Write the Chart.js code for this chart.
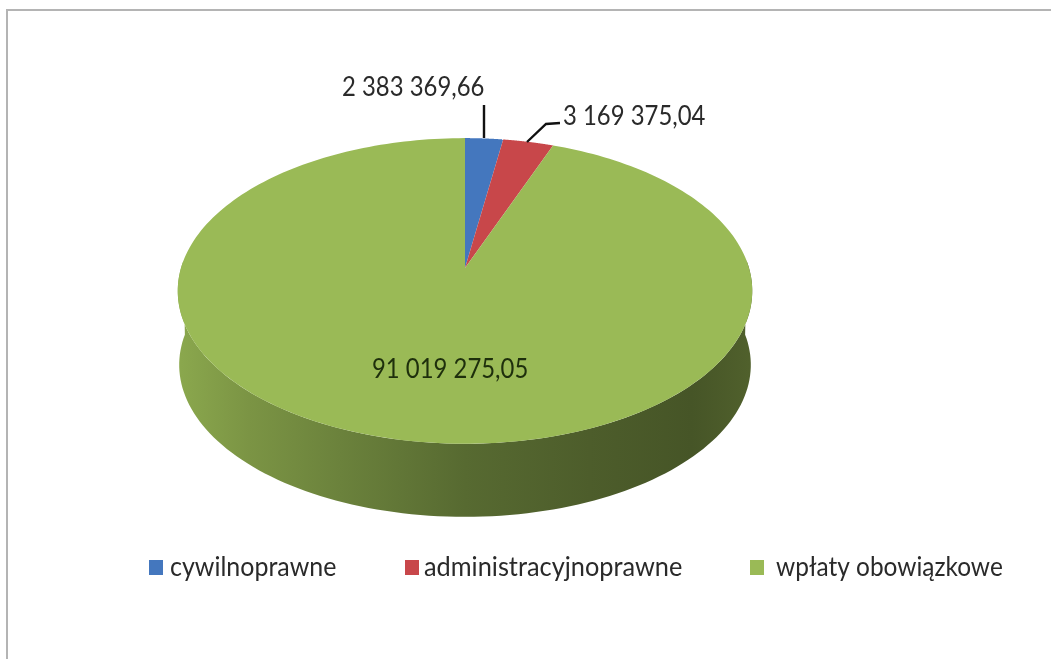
<!DOCTYPE html>
<html lang="pl">
<head>
<meta charset="utf-8">
<style>
html,body{margin:0;padding:0;background:#fff;width:1051px;height:659px;overflow:hidden}
#wrap{position:relative;width:1051px;height:659px}
#frameTop{position:absolute;left:6px;top:9px;width:1045px;height:2px;background:#b4b4b4}
#frameLeft{position:absolute;left:6px;top:9px;width:2px;height:650px;background:#b4b4b4}
canvas{position:absolute;left:0;top:0;filter:blur(0.7px)}
</style>
</head>
<body>
<div id="wrap">
<div id="frameTop"></div><div id="frameLeft"></div>
<canvas id="c" width="1051" height="659"></canvas>
</div>
<script src="https://cdn.jsdelivr.net/npm/chart.js@4/dist/chart.umd.min.js"></script>
<script>
const categories = ["cywilnoprawne", "administracyjnoprawne", "wpłaty obowiązkowe"];
const values = [2383369.66, 3169375.04, 91019275.05];
const colors = ["#4477BE", "#C8474A", "#9ABA56"];

const fmt = v => {
  const [a, b] = v.toFixed(2).split(".");
  return a.replace(/\B(?=(\d{3})+$)/g, " ") + "," + b;
};

// view of the pie: perspective of a tilted disc
const TILT = 0.526, PERSP = 0.15, DEPTH = 74, BOTTOM_SCALE = 0.995;
const project = (arc, a) => {
  const u = Math.cos(a), v = Math.sin(a), s = 1 / (1 - PERSP * v);
  return [arc.x + arc.outerRadius * u * s, arc.y + arc.outerRadius * TILT * v * s];
};
const lower = (arc, p) => [arc.x + (p[0] - arc.x) * BOTTOM_SCALE, arc.y + (p[1] - arc.y) * BOTTOM_SCALE + DEPTH];
const shade = (hex, f) => {
  const n = parseInt(hex.slice(1), 16);
  return `rgb(${(n >> 16) * f | 0},${((n >> 8) & 255) * f | 0},${(n & 255) * f | 0})`;
};
const WALL_SHADES = [[0, .90], [.12, .80], [.28, .70], [.50, .57], [.72, .50], [.90, .46], [1, .52]];
const stretched = (ctx, text, x, y, sx) => {
  ctx.save();
  ctx.translate(x, y);
  ctx.scale(sx, 1);
  ctx.fillText(text, 0, 0);
  ctx.restore();
};

const pie3d = {
  id: "pie3d",
  beforeDatasetDraw(chart, args) {
    const ctx = chart.ctx, arcs = args.meta.data;
    // side wall (front half only; the back is hidden by the top)
    arcs.forEach((arc, i) => {
      const from = Math.max(arc.startAngle, -0.05), to = Math.min(arc.endAngle, Math.PI + 0.05);
      if (to <= from) return;
      const n = 120, top = [];
      for (let k = 0; k <= n; k++) top.push(project(arc, from + (to - from) * k / n));
      const g = ctx.createLinearGradient(arc.x - arc.outerRadius, 0, arc.x + arc.outerRadius, 0);
      WALL_SHADES.forEach(([p, f]) => g.addColorStop(p, shade(colors[i], f)));
      ctx.beginPath();
      top.forEach((p, k) => k ? ctx.lineTo(p[0], p[1]) : ctx.moveTo(p[0], p[1]));
      top.slice().reverse().forEach(p => { const q = lower(arc, p); ctx.lineTo(q[0], q[1]); });
      ctx.closePath();
      ctx.fillStyle = g;
      ctx.fill();
    });
    // top surface
    arcs.forEach((arc, i) => {
      const n = 240;
      ctx.beginPath();
      ctx.moveTo(arc.x, arc.y);
      for (let k = 0; k <= n; k++) {
        const p = project(arc, arc.startAngle + (arc.endAngle - arc.startAngle) * k / n);
        ctx.lineTo(p[0], p[1]);
      }
      ctx.closePath();
      ctx.fillStyle = colors[i];
      ctx.fill();
    });
    return false;
  },
  afterDraw(chart) {
    const ctx = chart.ctx;
    ctx.save();
    // leader lines
    ctx.strokeStyle = "#111";
    ctx.lineWidth = 2.4;
    ctx.beginPath();
    ctx.moveTo(484, 105); ctx.lineTo(484, 138);
    ctx.moveTo(527, 142); ctx.lineTo(546, 124); ctx.lineTo(560, 123);
    ctx.stroke();
    // value labels
    ctx.font = "27px Lato";
    ctx.textBaseline = "middle";
    ctx.textAlign = "left";
    ctx.fillStyle = "#2a2a2a";
    stretched(ctx, fmt(values[0]), 342, 87, 0.885);
    stretched(ctx, fmt(values[1]), 563, 116, 0.885);
    ctx.fillStyle = "#1e2f0c";
    stretched(ctx, fmt(values[2]), 372, 369, 0.885);
    // legend
    const swatchX = [149, 405, 750], textX = [170, 424, 776], textSx = [0.925, 0.938, 0.905];
    categories.forEach((c, i) => {
      ctx.fillStyle = colors[i];
      ctx.fillRect(swatchX[i], 560, 14, 15);
      ctx.fillStyle = "#2a2a2a";
      stretched(ctx, c, textX[i], 567, textSx[i]);
    });
    ctx.restore();
  }
};

new Chart(document.getElementById("c"), {
  type: "pie",
  data: {
    labels: categories,
    datasets: [{ data: values, backgroundColor: colors, borderWidth: 0, radius: 284 }]
  },
  options: {
    responsive: false,
    animation: false,
    layout: { padding: { left: 100, right: 221, top: 10, bottom: 133 } },
    plugins: { legend: { display: false }, tooltip: { enabled: false } }
  },
  plugins: [pie3d]
});
</script>
</body>
</html>
